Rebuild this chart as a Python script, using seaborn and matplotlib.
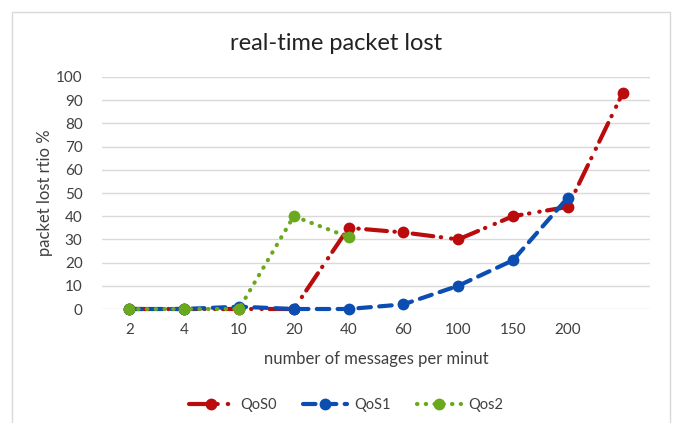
import matplotlib
matplotlib.use("Agg")
import matplotlib.pyplot as plt
import seaborn as sns
import pandas as pd
from matplotlib.patches import Rectangle

# messages per minute (last category has no label in the original)
categories = ["2", "4", "10", "20", "40", "60", "100", "150", "200", ""]
qos0 = [0, 0, 0, 0, 35, 33, 30, 40, 44, 93]
qos1 = [0, 0, 1, 0, 0, 2, 10, 21, 48]
qos2 = [0, 0, 0, 40, 31]

sns.set_theme(style="white")
plt.rcParams['font.family'] = ['Lato', 'DejaVu Sans']

fig = plt.figure(figsize=(6.73, 4.23), dpi=100)
ax = fig.add_axes([102 / 673, 1 - 309 / 423, 548 / 673, 232 / 423])

series = [
    ("QoS0", qos0, "#BA0C0C", (0, (5, 1.8, 0.1, 2.4, 0.1, 1.8))),
    ("QoS1", qos1, "#0B4DB0", (0, (3, 2))),
    ("Qos2", qos2, "#6AA81E", (0, (0.1, 2))),
]

for name, vals, color, ls in series:
    df = pd.DataFrame({"x": range(len(vals)), "y": vals})
    sns.lineplot(data=df, x="x", y="y", ax=ax, color=color, linewidth=3,
                 linestyle=ls, marker="o", markersize=8.5, markeredgewidth=0,
                 dash_capstyle="round", solid_capstyle="round",
                 label=name, clip_on=False, zorder=3)

ax.set_xlim(-0.5, len(categories) - 0.5)
ax.set_ylim(0, 100)
ax.set_yticks(range(0, 101, 10))
ax.set_xticks(range(len(categories)))
ax.set_xticklabels(categories)
ax.tick_params(axis="both", labelsize=11, colors="#404040", length=0, pad=14)
ax.tick_params(axis="x", pad=10)
ax.grid(axis="y", color="#d9d9d9", linewidth=1)
for s in ax.spines.values():
    s.set_visible(False)

ax.set_xlabel("number of messages per minut", fontsize=12, color="#404040", labelpad=10)
ax.set_ylabel("packet lost rtio %", fontsize=12, color="#404040", labelpad=2)
fig.text(0.5, 1 - 43 / 423, "real-time packet lost", ha="center", va="center",
         fontsize=17, color="#222222")

ax.legend(loc="center", bbox_to_anchor=(346 / 673, 1 - 405 / 423),
          bbox_transform=fig.transFigure, ncol=3, frameon=False,
          fontsize=10.5, handlelength=3, handletextpad=0.5,
          columnspacing=1.8, labelcolor="#404040")

fig.patches.append(Rectangle((12 / 673, -0.01), 658 / 673, 1 - 12 / 423 + 0.01,
                             transform=fig.transFigure, fill=False,
                             edgecolor="#d9d9d9", linewidth=1))

fig.savefig("out.png", dpi=100)
